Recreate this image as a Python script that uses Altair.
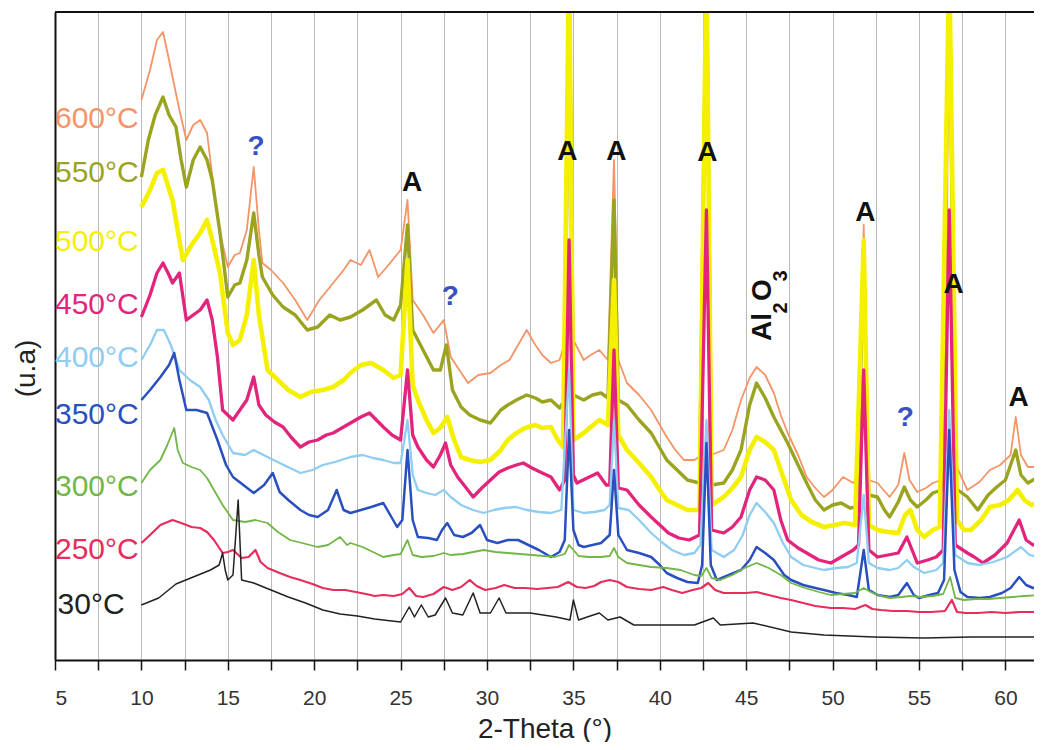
import altair as alt
import pandas as pd

# ---- data: (2-theta, intensity in arbitrary units) ----
P_600 = [(10.0,560),(10.5,590),(10.9,620),(11.25,628),(11.6,600),(11.8,583),(12.2,550),(12.6,520),(13.0,535),(13.4,540),
         (13.8,527),(14.2,470),(14.55,427),(15.0,393),(15.4,405),(15.7,407),(16.1,430),(16.5,493),(16.8,430),(17.0,397),
         (17.5,390),(18.2,377),(18.9,360),(19.6,340),(20.3,360),(21.1,377),(21.7,390),(22.1,400),(22.7,395),(23.2,410),
         (23.7,383),(24.3,395),(25.0,410),(25.4,460),(25.7,360),(26.3,345),(26.9,327),(27.5,340),(27.9,303),(28.4,290),
         (28.9,277),(29.5,285),(30.2,287),(30.8,295),(31.3,300),(31.8,315),(32.3,330),(32.8,315),(33.2,305),(33.7,297),
         (34.2,300),(34.55,320),(34.75,800),(35.0,320),(35.6,300),(36.0,305),(36.5,310),(37.0,300),(37.35,500),(37.6,300),
         (38.1,277),(38.8,265),(39.5,250),(40.0,235),(40.4,223),(40.9,210),(41.4,200),(42.0,200),(42.45,205),(42.7,800),
         (42.95,205),(43.7,210),(44.2,230),(44.7,260),(45.2,282),(45.6,293),(46.1,285),(46.6,267),(47.0,245),(47.4,227),
         (48.0,205),(48.5,183),(49.0,172),(49.5,163),(50.0,170),(50.6,183),(51.2,177),(51.55,185),(51.8,435),(52.1,180),
         (52.6,177),(53.3,163),(53.8,175),(54.15,207),(54.45,180),(54.9,168),(55.4,172),(55.8,177),(56.3,180),(56.55,210),
         (56.75,800),(57.0,200),(57.8,170),(58.5,178),(59.1,190),(59.7,195),(60.3,205),(60.6,243),(60.9,205),(61.3,193),
         (61.9,193)]

P_550 = [(10.0,483),(10.4,520),(10.8,545),(11.25,563),(11.6,545),(12.0,533),(12.3,500),(12.6,473),(13.0,500),(13.4,513),
         (13.8,500),(14.1,480),(14.55,427),(15.0,363),(15.4,375),(15.7,377),(16.1,400),(16.5,447),(16.8,405),(17.0,383),
         (17.6,365),(18.2,353),(18.9,345),(19.6,330),(20.2,333),(20.9,345),(21.5,340),(22.1,343),(22.8,350),(23.6,360),
         (24.1,345),(24.6,340),(25.0,355),(25.4,435),(25.7,330),(26.3,310),(26.9,290),(27.3,290),(27.65,315),(28.0,270),
         (28.5,253),(29.0,245),(29.6,240),(30.2,237),(30.8,250),(31.2,255),(31.7,260),(32.3,265),(32.8,262),(33.2,258),
         (33.7,260),(34.2,252),(34.5,260),(34.75,700),(35.0,265),(35.6,260),(36.1,265),(36.6,267),(37.0,262),(37.35,460),
         (37.6,260),(38.1,255),(38.8,240),(39.5,227),(40.0,212),(40.4,200),(41.0,190),(41.6,180),(42.3,177),(42.7,700),
         (43.0,175),(43.7,177),(44.2,190),(44.7,210),(45.2,255),(45.6,277),(46.1,262),(46.6,243),(47.0,230),(47.4,217),
         (48.0,195),(48.5,177),(49.0,160),(49.5,150),(50.0,155),(50.5,157),(51.0,152),(51.4,153),(51.8,400),(52.1,165),
         (52.6,163),(53.0,150),(53.3,143),(53.8,158),(54.15,173),(54.5,160),(54.9,153),(55.4,160),(55.8,167),(56.3,170),
         (56.75,700),(57.1,172),(57.8,163),(58.4,150),(59.0,165),(59.5,173),(60.0,180),(60.6,210),(60.9,185),(61.3,177),
         (61.9,183)]

P_500 = [(10.0,453),(10.5,470),(10.9,487),(11.25,490),(11.8,460),(12.1,430),(12.4,400),(12.9,415),(13.4,427),(13.8,440),
         (14.1,420),(14.55,387),(15.0,327),(15.3,315),(15.7,320),(16.1,345),(16.5,400),(16.8,345),(17.3,290),(17.9,280),
         (18.5,270),(19.2,263),(19.8,268),(20.5,270),(21.1,273),(21.7,280),(22.1,287),(22.7,295),(23.3,297),(24.0,290),
         (24.6,282),(25.0,285),(25.4,400),(25.7,275),(26.0,260),(26.5,240),(26.9,227),(27.3,232),(27.7,243),(28.1,220),
         (28.5,203),(29.0,200),(29.6,198),(30.2,200),(30.8,210),(31.2,220),(31.7,227),(32.2,232),(32.8,235),(33.2,232),
         (33.7,233),(34.1,220),(34.4,213),(34.75,700),(35.0,220),(35.6,227),(36.0,233),(36.5,240),(37.0,235),(37.35,380),
         (37.6,225),(38.1,210),(38.8,197),(39.5,183),(40.0,170),(40.4,160),(41.0,155),(41.6,150),(42.3,150),(42.7,700),
         (43.0,155),(43.7,163),(44.2,172),(44.7,183),(45.2,210),(45.6,223),(46.1,218),(46.6,210),(47.1,185),(47.6,160),
         (48.2,145),(48.8,138),(49.5,133),(50.1,135),(50.7,137),(51.3,135),(51.8,420),(52.1,135),(52.6,130),(53.2,128),
         (53.8,127),(54.2,145),(54.5,150),(54.9,130),(55.3,123),(55.8,130),(56.2,133),(56.75,700),(57.2,140),(57.6,130),
         (58.0,130),(58.6,140),(59.1,153),(59.7,155),(60.2,160),(60.7,170),(61.1,160),(61.5,155),(61.9,157)]

P_450 = [(10.0,343),(10.5,365),(10.9,387),(11.25,397),(11.6,385),(11.8,377),(12.2,387),(12.6,340),(13.0,345),(13.4,350),
         (13.8,360),(14.1,340),(14.4,303),(14.7,250),(15.0,245),(15.3,240),(15.7,250),(16.1,260),(16.5,283),(16.8,255),
         (17.2,245),(17.7,238),(18.2,233),(18.7,222),(19.2,213),(19.7,218),(20.2,220),(20.7,225),(21.1,227),(21.6,232),
         (22.1,237),(22.7,243),(23.2,247),(23.6,240),(24.0,233),(24.5,225),(25.0,220),(25.4,290),(25.7,225),(26.0,213),
         (26.5,200),(26.9,193),(27.3,205),(27.6,217),(27.9,195),(28.3,183),(28.8,172),(29.2,163),(29.7,172),(30.2,180),
         (30.7,188),(31.2,192),(31.7,195),(32.1,197),(32.6,192),(33.2,187),(33.7,183),(34.2,170),(34.5,180),(34.75,420),
         (35.0,185),(35.2,177),(35.8,182),(36.4,187),(36.9,175),(37.1,175),(37.35,310),(37.6,172),(38.1,170),(38.8,155),
         (39.5,143),(40.0,135),(40.5,127),(41.1,122),(41.7,120),(42.3,125),(42.7,450),(43.0,130),(43.7,127),(44.2,133),
         (44.7,143),(45.2,170),(45.6,183),(46.1,180),(46.6,170),(47.0,140),(47.4,120),(48.0,112),(48.5,107),(49.2,100),
         (49.9,97),(50.5,103),(51.2,110),(51.5,115),(51.8,290),(52.1,110),(52.6,103),(53.2,105),(53.8,107),(54.3,123),
         (54.6,110),(54.9,97),(55.5,100),(56.0,103),(56.4,110),(56.75,450),(57.1,115),(57.8,107),(58.2,103),(58.7,97),
         (59.4,105),(60.1,117),(60.8,140),(61.2,120),(61.6,115),(61.9,117)]

P_400 = [(10.0,300),(10.5,315),(10.9,330),(11.3,330),(11.7,315),(12.2,290),(12.8,280),(13.4,273),(13.9,260),(14.3,240),
         (14.7,225),(15.3,207),(16.0,205),(16.5,210),(17.3,203),(18.0,197),(18.6,192),(19.2,187),(19.9,190),(20.5,195),
         (21.2,198),(22.1,203),(22.8,205),(23.4,202),(24.0,200),(24.6,197),(25.0,197),(25.4,240),(25.7,185),(26.0,170),
         (26.5,167),(27.0,165),(27.5,170),(27.9,163),(28.5,155),(29.2,150),(29.8,147),(30.4,150),(31.0,152),(31.7,153),
         (32.3,150),(33.0,148),(33.7,147),(34.3,150),(34.75,290),(35.0,150),(35.6,147),(36.2,148),(36.8,150),(37.1,155),
         (37.35,240),(37.6,152),(38.2,150),(38.8,140),(39.5,127),(40.1,118),(40.7,110),(41.4,105),(42.0,107),(42.35,115),
         (42.7,240),(43.0,110),(43.7,103),(44.3,110),(44.8,125),(45.2,145),(45.6,157),(46.1,148),(46.6,137),(47.1,118),
         (47.6,103),(48.3,95),(49.0,92),(49.5,90),(50.2,92),(50.9,93),(51.4,97),(51.8,165),(52.1,97),(52.6,92),
         (53.3,90),(53.8,92),(54.3,100),(54.7,93),(55.3,87),(56.0,90),(56.4,97),(56.75,250),(57.1,105),(57.8,97),
         (58.5,95),(59.3,98),(60.1,103),(60.9,113),(61.4,105),(61.9,103)]

P_350 = [(10.0,260),(10.5,270),(11.1,283),(11.6,295),(11.9,307),(12.2,280),(12.6,250),(13.2,250),(13.8,247),(14.4,220),
         (14.9,195),(15.3,183),(15.9,175),(16.5,167),(17.1,175),(17.6,187),(18.0,168),(18.5,160),(19.2,150),(19.7,145),
         (20.2,143),(20.8,150),(21.3,170),(21.7,150),(22.1,147),(22.7,150),(23.3,153),(24.0,157),(24.4,145),(24.8,133),
         (25.1,140),(25.4,210),(25.7,140),(26.0,123),(26.6,122),(27.1,120),(27.4,130),(27.7,137),(28.1,125),(28.6,123),
         (29.1,127),(29.6,135),(30.0,120),(30.6,117),(31.2,120),(31.8,120),(32.4,115),(33.0,110),(33.7,103),(34.2,108),
         (34.5,120),(34.75,230),(35.0,130),(35.3,115),(35.6,113),(36.1,115),(36.6,117),(37.1,125),(37.35,190),(37.6,125),
         (38.1,110),(38.8,107),(39.5,103),(40.0,95),(40.4,87),(41.0,82),(41.6,78),(42.2,77),(42.45,95),(42.7,217),
         (42.95,95),(43.3,80),(44.0,85),(44.7,90),(45.2,100),(45.6,113),(46.1,107),(46.6,100),(47.2,85),(47.6,80),
         (48.3,75),(49.0,72),(49.5,70),(50.2,67),(50.9,65),(51.4,63),(51.8,110),(52.1,70),(52.6,65),(53.3,63),
         (53.8,65),(54.3,77),(54.7,65),(55.0,62),(55.6,65),(56.1,67),(56.45,80),(56.75,230),(57.05,90),(57.4,68),
         (57.8,63),(58.5,62),(59.1,63),(59.8,67),(60.3,72),(60.8,83),(61.2,75),(61.6,72),(61.9,73)]

P_300 = [(10.0,177),(10.5,190),(11.1,200),(11.5,215),(11.9,232),(12.1,210),(12.4,197),(12.9,193),(13.4,190),(13.8,182),
         (14.2,170),(14.7,155),(15.3,140),(16.0,138),(16.6,140),(17.3,137),(17.9,128),(18.6,120),(19.3,117),(20.2,113),
         (20.8,115),(21.5,123),(21.9,115),(22.1,117),(22.8,113),(23.4,108),(24.0,103),(24.6,105),(25.0,106),(25.4,120),
         (25.7,105),(26.2,103),(26.9,104),(27.5,107),(27.9,105),(28.6,106),(29.2,108),(29.8,110),(30.5,108),(31.2,107),
         (31.9,106),(32.6,105),(33.3,104),(33.9,103),(34.5,106),(34.75,115),(35.0,110),(35.3,104),(35.9,103),(36.6,103),
         (37.1,104),(37.35,112),(37.6,103),(38.1,97),(38.8,95),(39.5,93),(40.4,92),(41.2,90),(42.0,85),(42.4,84),
         (42.7,92),(43.0,82),(43.5,80),(44.2,85),(44.9,92),(45.6,97),(46.3,92),(47.0,85),(47.6,77),(48.4,72),
         (49.2,68),(49.9,65),(50.6,66),(51.3,67),(51.8,72),(52.2,68),(52.8,64),(53.3,62),(54.0,63),(54.5,64),
         (55.1,63),(55.8,64),(56.4,66),(56.8,83),(57.1,62),(57.6,60),(58.3,61),(59.0,61),(59.7,62),(60.4,63),
         (61.1,64),(61.9,65)]

P_250 = [(10.0,117),(10.5,125),(11.1,135),(11.8,140),(12.3,137),(12.9,133),(13.4,132),(13.8,128),(14.2,120),(14.7,107),
         (15.0,108),(15.3,110),(15.8,102),(16.2,103),(16.6,110),(16.9,98),(17.3,92),(18.0,87),(18.6,83),(19.2,80),
         (19.9,76),(20.5,72),(21.1,70),(21.8,70),(22.4,68),(23.0,66),(23.5,64),(24.0,65),(24.6,64),(25.1,66),
         (25.5,72),(25.9,64),(26.3,63),(26.9,66),(27.5,73),(28.0,70),(28.5,73),(29.0,80),(29.4,74),(29.9,70),
         (30.5,72),(31.0,75),(31.6,72),(32.2,72),(32.9,71),(33.5,72),(34.1,73),(34.7,78),(35.2,73),(35.7,72),
         (36.2,74),(36.6,78),(37.1,80),(37.6,78),(38.1,73),(38.8,71),(39.5,70),(40.2,73),(40.7,70),(41.3,67),
         (41.9,70),(42.4,72),(42.8,77),(43.2,70),(43.7,67),(44.4,67),(45.0,67),(45.6,68),(46.3,65),(47.0,62),
         (47.6,60),(48.3,57),(49.0,54),(49.9,52),(50.6,52),(51.3,51),(51.9,55),(52.3,51),(52.8,50),(53.5,49),
         (54.3,49),(55.0,48),(55.7,48),(56.5,49),(56.9,60),(57.2,48),(57.7,47),(58.4,47),(59.2,48),(60.0,47),
         (60.8,48),(61.4,48),(61.9,48)]

P_30 = [(10.0,55),(11.0,62),(12.0,76),(13.0,83),(14.0,90),(14.5,95),(14.7,107),(14.85,90),(15.0,80),(15.3,85),
        (15.6,160),(15.8,80),(16.5,77),(17.5,70),(18.5,63),(19.5,57),(20.5,50),(21.5,46),(22.5,44),(23.5,41),
        (24.5,39),(25.0,38),(25.5,53),(25.8,43),(26.2,55),(26.6,43),(27.0,45),(27.6,62),(28.0,47),(28.6,45),
        (29.2,67),(29.6,47),(30.2,47),(30.7,62),(31.1,47),(32.5,47),(34.0,43),(34.8,40),(35.0,60),(35.3,40),
        (35.8,43),(36.5,47),(37.0,40),(37.7,43),(38.5,35),(40.0,35),(42.0,35),(43.1,42),(43.5,35),(45.4,37),
        (47.6,28),(49.5,25),(52.4,23),(55.3,22),(58.0,23),(61.9,23)]

SERIES_NAMES = ["600°C", "550°C", "500°C", "450°C", "400°C", "350°C", "300°C", "250°C", "30°C"]
SERIES_POINTS = [P_600, P_550, P_500, P_450, P_400, P_350, P_300, P_250, P_30]
SERIES_COLORS = ["#f59466", "#9aa41f", "#f4f000", "#e2247c", "#8fcdf2", "#2a4fbf", "#72b645", "#e62d5c", "#222222"]
SERIES_WIDTHS = [1.8, 3.4, 4.6, 3.3, 2.3, 2.5, 1.8, 2.2, 1.5]

# temperature labels (left side)
LABEL_Y = [541, 487, 418, 355, 302, 245, 173, 110, 55]
LABEL_X = [5.0, 5.0, 5.0, 5.0, 5.0, 5.0, 5.0, 5.0, 5.15]

# peak annotations
ANN_TEXT = ["?", "A", "?", "A", "A", "A", "A", "A", "?", "A"]
ANN_X = [16.64, 25.67, 27.87, 34.65, 37.48, 42.75, 51.9, 57.0, 54.2, 60.76]
ANN_Y = [513, 477, 363, 508, 508, 507, 447, 375, 242, 262]
ANN_COLOR = ["#3552c0", "#111111", "#3552c0", "#111111", "#111111", "#111111", "#111111", "#111111", "#3552c0", "#111111"]

# Al2O3 label, written vertically (bottom to top), subscripts as smaller pieces
AL_TEXT = ["Al", "2", "O", "3"]
AL_X = [45.97, 47.0, 45.97, 47.0]
AL_Y = [333, 352, 370, 384]
AL_SIZE = [28, 20, 28, 20]

TICK_VALUES = [5 + 2.5 * i for i in range(23)]

PX_PER_DEG = 17.28
W, H = 979, 648
X_MAX = 5 + W / PX_PER_DEG
FONT = "Liberation Sans"

xscale = alt.Scale(domain=[5, X_MAX], nice=False, zero=False)
yscale = alt.Scale(domain=[0, 648], nice=False, zero=False)

xaxis = alt.Axis(values=TICK_VALUES, labelExpr="datum.value % 5 == 0 ? format(datum.value, 'd') : ''",
                 grid=True, gridColor="#bbbbbb", gridWidth=1, tickColor="#111", tickSize=10, tickWidth=1.5,
                 domainColor="#111", domainWidth=2, labelFontSize=21, labelColor="#333", labelFont=FONT,
                 labelPadding=17, title="2-Theta (°)", titleFontSize=28, titleFontWeight="normal",
                 titleFont=FONT, titleColor="#222", titlePadding=7)
yaxis = alt.Axis(labels=False, ticks=False, grid=False, domainColor="#111", domainWidth=2,
                 title="(u.a)", titleFontSize=28, titleFontWeight="normal", titleFont=FONT,
                 titleColor="#222", titlePadding=15, titleY=356)

def X(field):
    return alt.X(field, scale=xscale, axis=xaxis)

def Y(field):
    return alt.Y(field, scale=yscale, axis=yaxis)

layers = []
for name, pts, col, sw in zip(SERIES_NAMES, SERIES_POINTS, SERIES_COLORS, SERIES_WIDTHS):
    df = pd.DataFrame(pts, columns=["theta", "inten"])
    df["series"] = name
    layers.append(alt.Chart(df).mark_line(color=col, strokeWidth=sw, clip=True, strokeJoin="round")
                  .encode(x=X("theta:Q"), y=Y("inten:Q")))

lab_df = pd.DataFrame({"theta": LABEL_X, "inten": LABEL_Y, "t": SERIES_NAMES, "c": SERIES_COLORS})
labels = alt.Chart(lab_df).mark_text(align="left", baseline="middle", fontSize=30, font=FONT).encode(
    x=X("theta:Q"), y=Y("inten:Q"), text="t:N", color=alt.Color("c:N", scale=None))

ann_df = pd.DataFrame({"theta": ANN_X, "inten": ANN_Y, "t": ANN_TEXT, "c": ANN_COLOR})
ann = alt.Chart(ann_df).mark_text(align="center", baseline="middle", fontSize=28, fontWeight="bold", font=FONT).encode(
    x=X("theta:Q"), y=Y("inten:Q"), text="t:N", color=alt.Color("c:N", scale=None))

al_df = pd.DataFrame({"theta": AL_X, "inten": AL_Y, "t": AL_TEXT, "s": AL_SIZE})
al = alt.Chart(al_df).mark_text(align="center", baseline="middle", fontWeight="bold",
                                font=FONT, angle=270, color="#111").encode(
    x=X("theta:Q"), y=Y("inten:Q"), text="t:N", size=alt.Size("s:Q", scale=None, legend=None))

top = alt.Chart(pd.DataFrame({"a": [0]})).mark_rule(color="#111", strokeWidth=2).encode(
    x=alt.value(0), x2=alt.value(W), y=alt.value(0))

chart = alt.layer(*layers, labels, ann, al, top).properties(
    width=W, height=H,
    autosize=alt.AutoSizeParams(type="none"),
    padding={"left": 47, "top": 4, "right": 0, "bottom": 82},
).configure_view(stroke=None)

chart.save("out.html", embed_options={"renderer": "svg", "actions": False})
